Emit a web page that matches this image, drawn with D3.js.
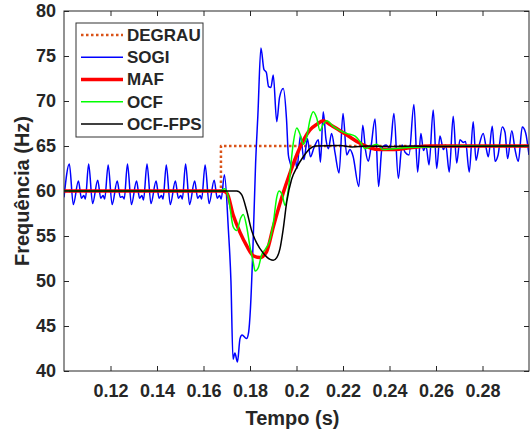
<!DOCTYPE html>
<html>
<head>
<meta charset="utf-8">
<title>Frequencia</title>
<script src="https://cdn.jsdelivr.net/npm/d3@7/dist/d3.min.js"></script>
<style>
  html, body { margin: 0; padding: 0; background: #fff; overflow: hidden; }
  svg { display: block; }
  text { font-family: "Liberation Sans", Arial, sans-serif; font-weight: bold; fill: #262626; }
</style>
</head>
<body>
<svg width="530" height="435" id="mainsvg"></svg>
<script>
// tick values
const xTicks = [0.12, 0.14, 0.16, 0.18, 0.2, 0.22, 0.24, 0.26, 0.28];
const xTickLabels = ['0.12', '0.14', '0.16', '0.18', '0.2', '0.22', '0.24', '0.26', '0.28'];
const yTicks = [40, 45, 50, 55, 60, 65, 70, 75, 80];

// series: [tempo (s), frequencia (Hz)]
const degrau = [[0.1, 60], [0.1675, 60], [0.1675, 65], [0.3, 65]];

const sogi = [
  [0.1000, 59.3],
  [0.1023, 63.0], [0.1040, 58.5], [0.1062, 61.1], [0.1075, 59.2], [0.1085, 59.5], [0.1092, 59.1],
  [0.1106, 63.0], [0.1123, 58.6], [0.1145, 61.2], [0.1158, 59.2], [0.1168, 59.5], [0.1175, 59.1],
  [0.1190, 62.9], [0.1207, 58.5], [0.1229, 61.1], [0.1242, 59.3], [0.1252, 59.4], [0.1259, 59.1],
  [0.1273, 63.0], [0.1290, 58.5], [0.1312, 61.1], [0.1325, 59.2], [0.1335, 59.5], [0.1342, 59.0],
  [0.1357, 63.0], [0.1374, 58.6], [0.1396, 61.1], [0.1409, 59.2], [0.1419, 59.5], [0.1426, 59.1],
  [0.1440, 62.9], [0.1457, 58.5], [0.1479, 61.1], [0.1492, 59.2], [0.1502, 59.5], [0.1509, 59.1],
  [0.1523, 63.0], [0.1540, 58.5], [0.1562, 61.1], [0.1575, 59.2], [0.1585, 59.5], [0.1592, 59.1],
  [0.1607, 62.9], [0.1624, 58.6], [0.1646, 61.2], [0.1659, 59.2], [0.1669, 59.5], [0.1676, 59.1],
  [0.1690, 61.8], [0.1707, 55.7], [0.1718, 50.0], [0.1727, 41.3], [0.1735, 42.0], [0.1746, 41.0],
  [0.1757, 43.6], [0.1766, 44.0], [0.1785, 43.6], [0.1794, 44.3], [0.1802, 47.0], [0.1813, 54.0],
  [0.1824, 63.0], [0.1834, 68.5], [0.1847, 75.9], [0.1860, 73.5], [0.1870, 73.2], [0.1880, 71.6],
  [0.1890, 71.5], [0.1900, 72.9], [0.1915, 67.7], [0.1927, 70.4], [0.1943, 71.4], [0.1957, 68.0],
  [0.1965, 64.0], [0.1972, 63.2], [0.1981, 62.6], [0.1994, 63.7], [0.2002, 62.5], [0.2017, 66.2],
  [0.2032, 63.5], [0.2047, 65.8], [0.2060, 63.8], [0.2075, 64.8], [0.2094, 65.7], [0.2103, 63.2],
  [0.2115, 68.8], [0.2127, 65.7], [0.2137, 64.7], [0.2151, 66.4], [0.2166, 64.2], [0.2183, 62.0],
  [0.2200, 68.6], [0.2216, 64.0], [0.2230, 64.6], [0.2243, 63.9], [0.2268, 60.5], [0.2285, 67.3],
  [0.2297, 64.5], [0.2309, 63.3], [0.2320, 64.8], [0.2338, 68.0], [0.2353, 60.5], [0.2368, 64.8],
  [0.2385, 65.1], [0.2402, 64.7], [0.2419, 68.6], [0.2438, 61.4], [0.2454, 65.1], [0.2467, 64.3],
  [0.2484, 64.0], [0.2505, 69.6], [0.2521, 62.1], [0.2535, 66.4], [0.2546, 64.5], [0.2557, 65.0],
  [0.2570, 62.9], [0.2588, 69.0], [0.2603, 62.5], [0.2617, 66.1], [0.2632, 64.6], [0.2642, 65.1],
  [0.2657, 62.1], [0.2674, 68.3], [0.2689, 63.1], [0.2703, 65.7], [0.2717, 65.4], [0.2727, 65.5],
  [0.2743, 62.1], [0.2760, 67.7], [0.2772, 63.4], [0.2785, 65.0], [0.2803, 66.4], [0.2817, 64.6],
  [0.2825, 63.8], [0.2842, 67.2], [0.2854, 63.3], [0.2867, 64.0], [0.2885, 67.1], [0.2897, 66.5],
  [0.2908, 63.6], [0.2926, 66.7], [0.2940, 64.6], [0.2954, 63.3], [0.2971, 67.1], [0.2985, 66.5],
  [0.3000, 64.0]
];

const maf = [
  [0.1000, 60.0], [0.1680, 60.0], [0.1700, 59.8], [0.1728, 57.3], [0.1757, 55.4], [0.1786, 53.9],
  [0.1814, 52.8], [0.1843, 52.6], [0.1872, 53.3], [0.1900, 56.0], [0.1943, 59.8], [0.1972, 62.0],
  [0.2001, 64.0], [0.2029, 65.6], [0.2058, 66.8], [0.2087, 67.4], [0.2115, 67.8], [0.2144, 67.4],
  [0.2187, 66.7], [0.2230, 66.0], [0.2273, 65.3], [0.2316, 64.8], [0.2359, 64.6], [0.2424, 64.6],
  [0.2488, 64.8], [0.2574, 65.0], [0.3000, 65.0]
];

const ocf = [
  [0.1000, 60.0], [0.1671, 60.0], [0.1692, 60.25], [0.1707, 59.3], [0.1728, 56.0], [0.1743, 55.6],
  [0.1760, 57.0], [0.1771, 57.4], [0.1786, 56.0], [0.1800, 53.8], [0.1814, 52.1], [0.1822, 51.1],
  [0.1836, 51.5], [0.1850, 52.9], [0.1865, 53.5], [0.1886, 54.6], [0.1900, 56.4], [0.1915, 59.3],
  [0.1925, 60.0], [0.1938, 59.6], [0.1951, 58.4], [0.1965, 60.2], [0.1986, 65.3], [0.2001, 67.0],
  [0.2015, 66.3], [0.2029, 65.2], [0.2044, 66.0], [0.2058, 67.9], [0.2072, 68.8], [0.2087, 68.1],
  [0.2101, 66.7], [0.2115, 67.4], [0.2130, 67.8], [0.2157, 67.2], [0.2187, 66.7], [0.2216, 66.4],
  [0.2252, 66.1], [0.2273, 65.5], [0.2295, 64.7], [0.2316, 64.9], [0.2345, 65.2], [0.2372, 64.6],
  [0.2415, 64.7], [0.2467, 64.8], [0.2574, 64.9], [0.2703, 65.0], [0.3000, 65.0]
];

const ocfFps = [
  [0.1000, 60.0], [0.1743, 60.0], [0.1764, 59.6], [0.1786, 57.8], [0.1807, 55.6], [0.1829, 54.2],
  [0.1857, 53.1], [0.1886, 52.4], [0.1900, 52.3], [0.1915, 52.6], [0.1929, 53.6], [0.1943, 55.8],
  [0.1958, 58.8], [0.1979, 61.3], [0.2001, 62.6], [0.2029, 63.8], [0.2058, 64.7], [0.2080, 65.0],
  [0.2187, 65.05], [0.2240, 64.9], [0.2300, 65.0], [0.2400, 64.95], [0.2500, 65.0], [0.2600, 64.95],
  [0.3000, 65.0]
];

const seriesNames = ['DEGRAU', 'SOGI', 'MAF', 'OCF', 'OCF-FPS'];

const svg = d3.select('#mainsvg');
const margin = { top: 11, right: 1, bottom: 64, left: 64 };
const width = +svg.attr('width');
const height = +svg.attr('height');
const innerWidth = width - margin.left - margin.right;
const innerHeight = height - margin.top - margin.bottom;
const axisColor = '#262626';

const xScale = d3.scaleLinear().domain([0.1, 0.3]).range([0, innerWidth]);
const yScale = d3.scaleLinear().domain([40, 80]).range([innerHeight, 0]);

const g = svg.append('g').attr('transform', `translate(${margin.left},${margin.top})`);

g.append('clipPath').attr('id', 'clip')
  .append('rect').attr('width', innerWidth).attr('height', innerHeight);

// lines, in plotting order
const line = d3.line().x(d => xScale(d[0])).y(d => yScale(d[1]));
const smooth = d3.line().x(d => xScale(d[0])).y(d => yScale(d[1])).curve(d3.curveMonotoneX);

const styles = [
  { data: degrau, gen: line, color: '#D95319', w: 2.5, dash: '2.5,2.5' },
  { data: sogi, gen: smooth, color: '#0000FF', w: 1.5 },
  { data: maf, gen: smooth, color: '#FF0000', w: 3.5 },
  { data: ocf, gen: smooth, color: '#00FF00', w: 1.5 },
  { data: ocfFps, gen: smooth, color: '#000000', w: 1.5 }
];

const plot = g.append('g').attr('clip-path', 'url(#clip)');
styles.forEach(s => {
  plot.append('path')
    .attr('d', s.gen(s.data))
    .attr('fill', 'none')
    .attr('stroke', s.color)
    .attr('stroke-width', s.w)
    .attr('stroke-dasharray', s.dash || null)
    .attr('stroke-linejoin', 'round');
});

// axes, ticks pointing inward on all four sides
const xAxis = d3.axisBottom(xScale).tickValues(xTicks)
  .tickFormat((d, i) => xTickLabels[i]).tickSizeInner(-5).tickSizeOuter(0).tickPadding(13.5);
const yAxis = d3.axisLeft(yScale).tickValues(yTicks).tickSizeInner(-5).tickSizeOuter(0).tickPadding(8);
const xAxisTop = d3.axisTop(xScale).tickValues(xTicks).tickSizeInner(-5).tickSizeOuter(0);
const yAxisRight = d3.axisRight(yScale).tickValues(yTicks).tickSizeInner(-5).tickSizeOuter(0);

const xg = g.append('g').attr('transform', `translate(0,${innerHeight})`).call(xAxis);
const yg = g.append('g').call(yAxis);
const tg = g.append('g').call(xAxisTop);
const rg = g.append('g').attr('transform', `translate(${innerWidth},0)`).call(yAxisRight);

// top and right axes carry ticks only
tg.selectAll('text').remove();
rg.selectAll('text').remove();

[xg, yg, tg, rg].forEach(a => {
  a.selectAll('.domain').remove();
  a.selectAll('.tick line').attr('stroke', axisColor);
  a.selectAll('text').style('font-size', '18px').attr('fill', axisColor);
});

g.append('rect')
  .attr('width', innerWidth).attr('height', innerHeight)
  .attr('fill', 'none').attr('stroke', axisColor).attr('stroke-width', 1);

// axis titles
g.append('text')
  .attr('x', innerWidth / 2 - 4).attr('y', innerHeight + 54)
  .attr('text-anchor', 'middle').style('font-size', '20px')
  .text('Tempo (s)');

g.append('text')
  .attr('transform', `translate(${29 - margin.left},${innerHeight / 2}) rotate(-90)`)
  .attr('text-anchor', 'middle').style('font-size', '20px')
  .text('Frequência (Hz)');

// legend
const legend = g.append('g').attr('transform', `translate(${76 - margin.left},${23 - margin.top})`);
legend.append('rect')
  .attr('width', 127).attr('height', 114)
  .attr('fill', '#fff').attr('stroke', '#333').attr('stroke-width', 1);

const rowY = d3.scalePoint().domain(seriesNames).range([12, 101]);
seriesNames.forEach((name, i) => {
  const s = styles[i];
  const row = legend.append('g').attr('transform', `translate(0,${rowY(name)})`);
  row.append('line')
    .attr('x1', 5).attr('x2', 47)
    .attr('stroke', s.color).attr('stroke-width', s.w)
    .attr('stroke-dasharray', s.dash || null);
  row.append('text')
    .attr('x', 51).attr('dy', '0.35em')
    .style('font-size', '17px')
    .text(name);
});
</script>
</body>
</html>
